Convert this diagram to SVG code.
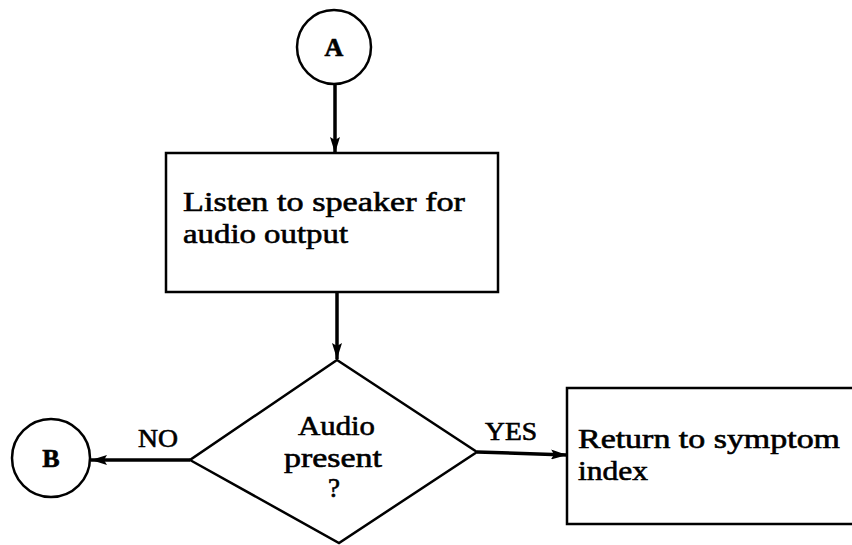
<svg xmlns="http://www.w3.org/2000/svg" width="852" height="545" viewBox="0 0 852 545">
<style>
.shape{fill:#fff;stroke:#000;stroke-width:2.5}
.conn{stroke:#000;stroke-width:3.5;fill:none}
.t{font-family:"Liberation Serif",serif;fill:#000;stroke:#000;stroke-width:0.6}
.lbl{font-size:25px}
</style>
<defs>
<marker id="ah" viewBox="0 0 16 10" refX="16" refY="5" markerWidth="16" markerHeight="10" markerUnits="userSpaceOnUse" orient="auto">
<path d="M0,0 L16,5 L0,10 L3,5 Z" fill="#000"/>
</marker>
</defs>
<rect width="852" height="545" fill="#fff"/>
<g id="connectors">
<line class="conn" x1="335" y1="85" x2="335" y2="153" marker-end="url(#ah)"/>
<line class="conn" x1="337" y1="293" x2="337" y2="359" marker-end="url(#ah)"/>
<line class="conn" x1="190" y1="460" x2="91" y2="460" stroke-width="4.5" marker-end="url(#ah)"/>
<line class="conn" x1="477" y1="452" x2="567" y2="455" marker-end="url(#ah)"/>
<text class="t lbl" x="138" y="447" textLength="40" lengthAdjust="spacingAndGlyphs">NO</text>
<text class="t lbl" x="485" y="440" textLength="52" lengthAdjust="spacingAndGlyphs">YES</text>
</g>
<g id="nodeA">
<circle class="shape" cx="334" cy="47" r="37"/>
<text class="t" x="334" y="56" text-anchor="middle" font-size="26" font-weight="bold">A</text>
</g>
<g id="listen">
<rect class="shape" x="166" y="153" width="332" height="139"/>
<text class="t" font-size="28" x="183" y="211" textLength="282" lengthAdjust="spacingAndGlyphs">Listen to speaker for</text>
<text class="t" font-size="28" x="183" y="243" textLength="165" lengthAdjust="spacingAndGlyphs">audio output</text>
</g>
<g id="decision">
<polygon class="shape" points="337,360 477,452 339,543 190,460"/>
<text class="t" font-size="27" x="298" y="435" textLength="77" lengthAdjust="spacingAndGlyphs">Audio</text>
<text class="t" font-size="27" x="284" y="467" textLength="98" lengthAdjust="spacingAndGlyphs">present</text>
<text class="t" font-size="27" x="334" y="497" text-anchor="middle">?</text>
</g>
<g id="nodeB">
<circle class="shape" cx="51" cy="458" r="39"/>
<text class="t" x="51" y="467" text-anchor="middle" font-size="26" font-weight="bold">B</text>
</g>
<g id="return">
<rect class="shape" x="567" y="388" width="300" height="136"/>
<text class="t" font-size="27" x="578" y="448" textLength="262" lengthAdjust="spacingAndGlyphs">Return to symptom</text>
<text class="t" font-size="27" x="578" y="480" textLength="70" lengthAdjust="spacingAndGlyphs">index</text>
</g>
</svg>
